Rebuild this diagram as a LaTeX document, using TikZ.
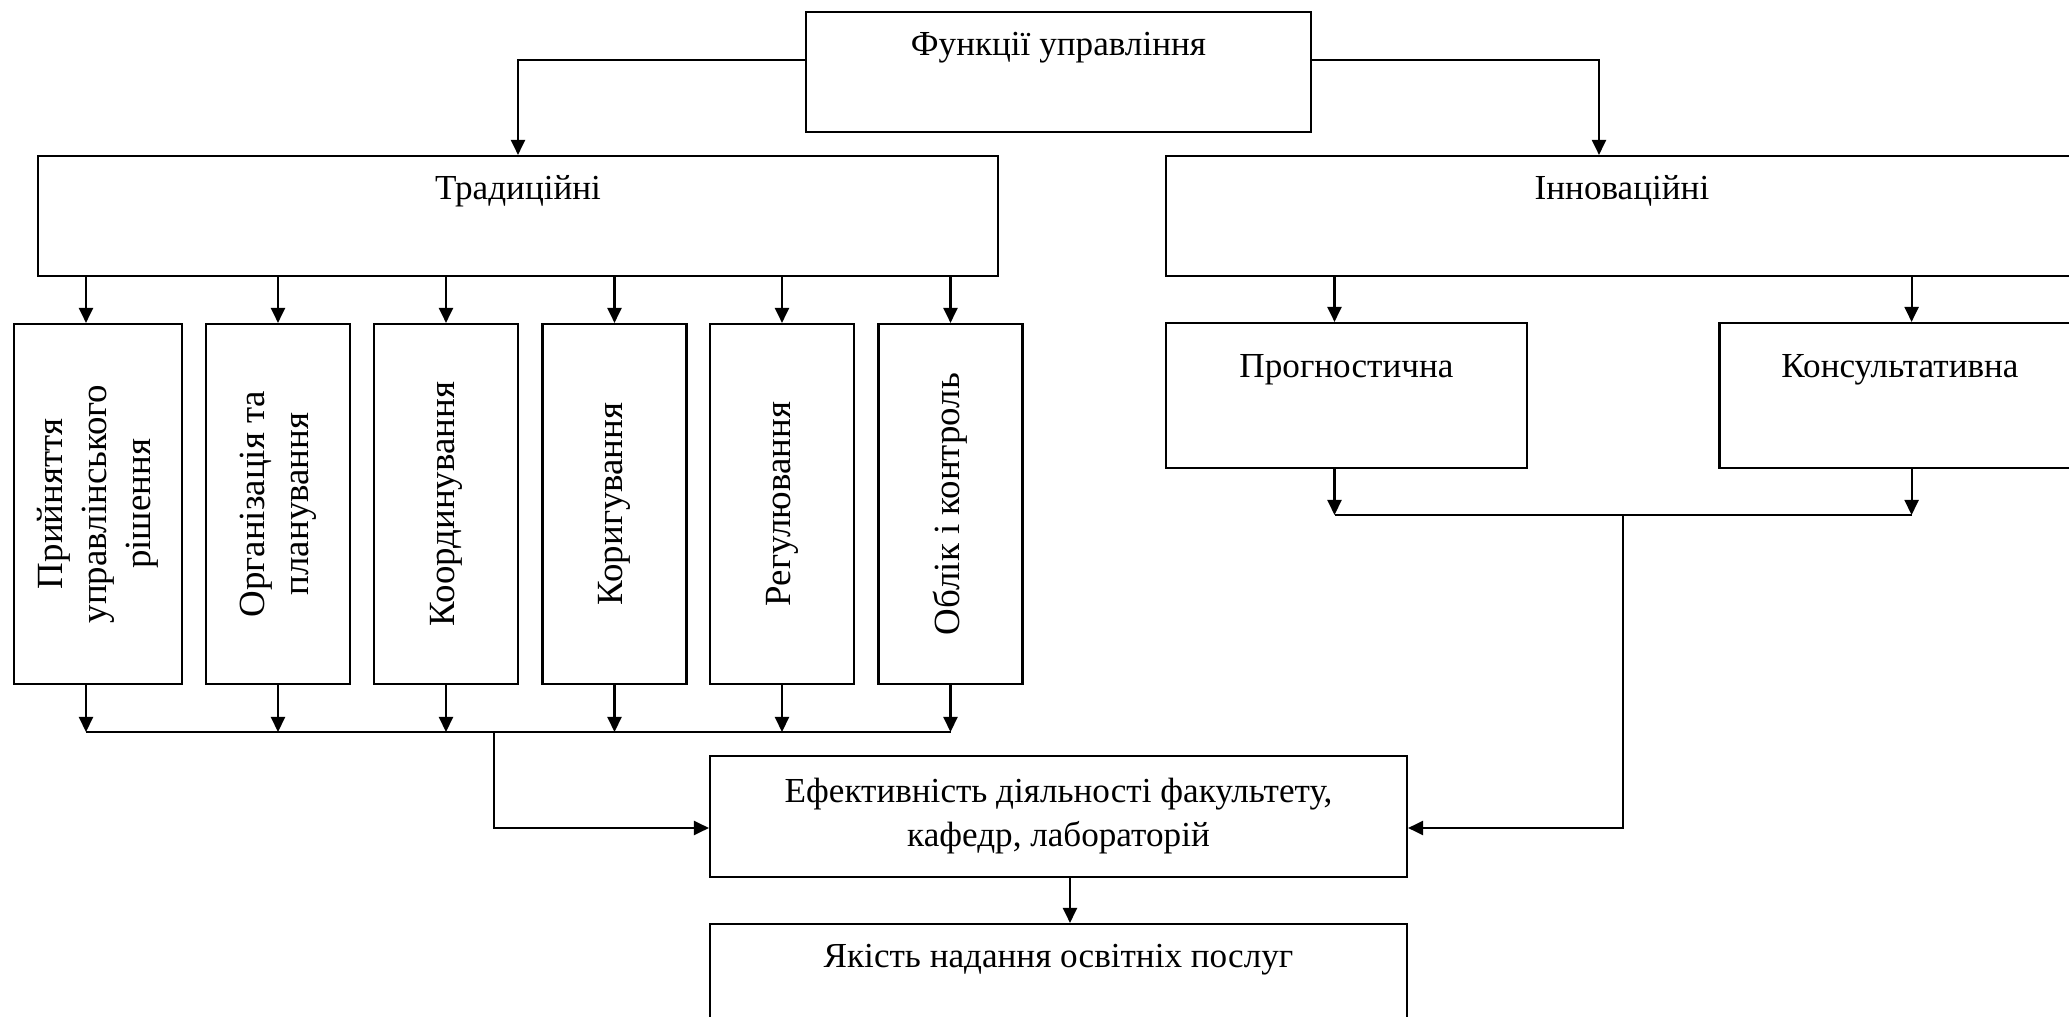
\documentclass[tikz,border=0pt]{standalone}
\usepackage{fontspec}
\setmainfont{Liberation Serif}
\usetikzlibrary{arrows.meta}

\begin{document}
\begin{tikzpicture}[>={Triangle[length=0.15cm,width=0.14cm]}, line width=0.6pt,
    font=\fontsize{10}{12.5}\selectfont,
    box/.style={rectangle, draw, inner sep=0pt},
    hbox/.style={box, text height=0.44cm, text depth=0.76cm},
    vbox/.style={box, rotate=90, minimum width=3.6cm, align=center, font=\fontsize{10.5}{12.5}\selectfont}]
  \useasboundingbox (0,0) rectangle (20.69,-10.17);

  % Top level
  \node[hbox, minimum width=5.05cm] (func)  at (10.585,-0.72) {Функції управління};
  \node[hbox, minimum width=9.60cm] (trad)  at (5.18,-2.16)   {Традиційні};
  \node[hbox, minimum width=9.12cm] (innov) at (16.22,-2.16)  {Інноваційні};

  % Traditional functions
  \node[vbox, minimum height=1.68cm] (vb1) at (0.98,-5.04)  {Прийняття\\управлінського\\рішення};
  \node[vbox, minimum height=1.44cm] (vb2) at (2.78,-5.04)  {Організація та\\планування};
  \node[vbox, minimum height=1.44cm] (vb3) at (4.46,-5.04)  {Координування};
  \node[vbox, minimum height=1.44cm] (vb4) at (6.145,-5.04) {Коригування};
  \node[vbox, minimum height=1.44cm] (vb5) at (7.82,-5.04)  {Регулювання};
  \node[vbox, minimum height=1.44cm] (vb6) at (9.505,-5.04) {Облік і контроль};

  % Innovative functions
  \node[box, minimum width=3.61cm, text height=0.55cm, text depth=0.90cm] (prog) at (13.465,-3.955) {Прогностична};
  \node[box, minimum width=3.61cm, text height=0.55cm, text depth=0.90cm] (kons) at (19.0,-3.955)   {Консультативна};

  % Results
  \node[box, minimum width=6.97cm, minimum height=1.21cm, align=center] (eff) at (10.585,-8.165) {Ефективність діяльності факультету,\\кафедр, лабораторій};
  \node[hbox, minimum width=6.97cm] (qual) at (10.585,-9.84) {Якість надання освітніх послуг};

  % Helper points for the buses
  \coordinate (bus)   at (0,-7.32);
  \coordinate (bus2)  at (0,-5.15);
  \coordinate (tradJ) at (4.94,-7.32);
  \coordinate (innJ)  at (16.23,-5.15);
  \coordinate (a1) at ([xshift=-1.2mm]vb1.east);
  \coordinate (b1) at ([xshift=-1.2mm]vb1.west);
  \coordinate (p1) at ([xshift=-1.2mm]prog.north);
  \coordinate (k1) at ([xshift=1.16mm]kons.north);

  % Arrows from the top box
  \draw[->] ([yshift=1.2mm]func.west) -| (trad.north);
  \draw[->] ([yshift=1.2mm]func.east) -| ([xshift=-2.3mm]innov.north);

  % Arrows for traditional functions
  \draw[->] (a1 |- trad.south) -- (a1);
  \draw[->] (b1) -- (b1 |- bus);
  \foreach \i in {2,...,6} {
    \draw[->] (vb\i.east |- trad.south) -- (vb\i.east);
    \draw[->] (vb\i.west) -- (vb\i.west |- bus);
  }
  \draw (b1 |- bus) -- (vb6.west |- bus);
  \draw[->] (tradJ) |- ([yshift=-1.15mm]eff.west);

  % Arrows for innovative functions
  \draw[->] (p1 |- innov.south) -- (p1);
  \draw[->] (k1 |- innov.south) -- (k1);
  \draw[->] (p1 |- prog.south) -- (p1 |- bus2);
  \draw[->] (k1 |- kons.south) -- (k1 |- bus2);
  \draw (p1 |- bus2) -- (k1 |- bus2);
  \draw[->] (innJ) |- ([yshift=-1.15mm]eff.east);

  % Result
  \draw[->] ([xshift=1.15mm]eff.south) -- ([xshift=1.15mm]qual.north);
\end{tikzpicture}
\end{document}
